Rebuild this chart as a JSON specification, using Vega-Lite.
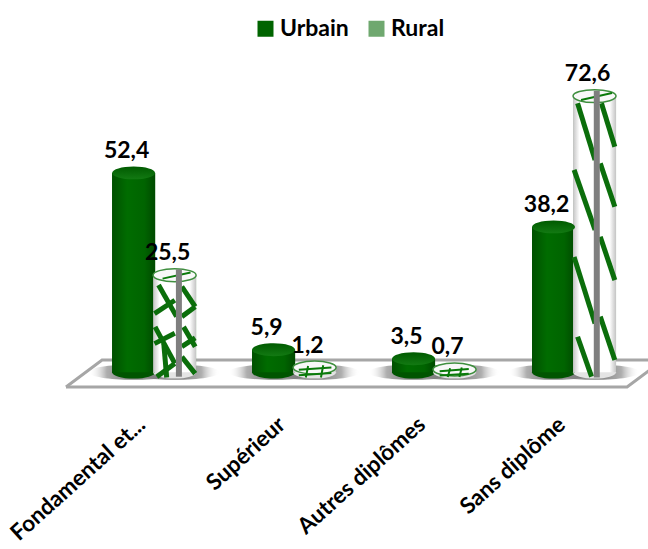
{"$schema":"https://vega.github.io/schema/vega-lite/v6.json","width":582,"height":330,"autosize":"none","padding":{"left":66,"top":60,"right":0,"bottom":159},"background":"white","config":{"view":{"stroke":null},"font":"Lato"},"datasets":{"main":[{"cat":"Fondamental et...","serie":"Urbain","val":52.4,"txt":"52,4"},{"cat":"Fondamental et...","serie":"Rural","val":25.5,"txt":"25,5"},{"cat":"Supérieur","serie":"Urbain","val":5.9,"txt":"5,9"},{"cat":"Supérieur","serie":"Rural","val":1.2,"txt":"1,2"},{"cat":"Autres diplômes","serie":"Urbain","val":3.5,"txt":"3,5"},{"cat":"Autres diplômes","serie":"Rural","val":0.7,"txt":"0,7"},{"cat":"Sans diplôme","serie":"Urbain","val":38.2,"txt":"38,2"},{"cat":"Sans diplôme","serie":"Rural","val":72.6,"txt":"72,6"}]},"layer":[{"data":{"values":[{"p":"f","x":0,"y":-3.9,"o":1},{"p":"f","x":96.4,"y":-3.9,"o":2},{"p":"f","x":100.5,"y":0.8,"o":3},{"p":"b","x":0,"y":-3.9,"o":1},{"p":"b","x":6.2,"y":3.2,"o":2},{"p":"b","x":100,"y":3.2,"o":3}]},"mark":{"type":"line","color":"#a6a6a6","strokeWidth":3,"clip":false},"encoding":{"x":{"field":"x","type":"quantitative","scale":{"domain":[0,100],"nice":false,"zero":false},"axis":null},"y":{"field":"y","type":"quantitative","scale":{"domain":[-4.7,82.1],"nice":false,"zero":false},"axis":null},"detail":{"field":"p"},"order":{"field":"o"}}},{"data":{"name":"main"},"encoding":{"x":{"field":"cat","type":"nominal","sort":null,"scale":{"type":"band","domain":["Fondamental et...","Supérieur","Autres diplômes","Sans diplôme"],"paddingInner":0,"paddingOuter":0.079,"align":0.82},"axis":{"title":null,"domain":false,"ticks":false,"labelAngle":-42,"labelAlign":"right","labelBaseline":"middle","labelFont":"Lato","labelFontWeight":"bold","labelFontSize":22.5,"labelColor":"#000000","labelPadding":31,"labelOffset":-12,"labelOverlap":false,"labelLimit":0}},"xOffset":{"field":"serie","type":"nominal","sort":["Urbain","Rural"],"scale":{"type":"band","domain":["Urbain","Rural"],"paddingInner":0,"paddingOuter":0.707}},"y":{"field":"val","type":"quantitative","scale":{"domain":[-4.7,82.1],"nice":false,"zero":false},"axis":null}},"layer":[{"mark":{"type":"point","shape":"M-1,0A1,0.17 0 1,0 1,0A1,0.17 0 1,0 -1,0Z","size":8100,"filled":true,"opacity":1,"fill":{"gradient":"radial","stops":[{"offset":0,"color":"rgba(90,90,90,0.85)"},{"offset":0.6,"color":"rgba(120,120,120,0.6)"},{"offset":1,"color":"rgba(255,255,255,0)"}]}},"encoding":{"y":{"datum":0,"type":"quantitative"}}},{"mark":{"type":"bar","width":43},"encoding":{"y2":{"datum":0},"color":{"field":"serie","type":"nominal","scale":{"domain":["Urbain","Rural"],"range":["#006400","#6fa86f"]},"legend":{"title":null,"orient":"none","legendX":188,"legendY":-43,"direction":"horizontal","columns":2,"symbolType":"square","symbolSize":256,"symbolStrokeWidth":0,"labelFont":"Lato","labelFontWeight":"bold","labelFontSize":23,"labelColor":"#000000","columnPadding":16,"labelOffset":3}}}},{"transform":[{"filter":"datum.serie=='Urbain'"}],"mark":{"type":"point","shape":"M-1,0A1,0.3 0 1,0 1,0A1,0.3 0 1,0 -1,0Z","size":1849,"filled":true,"opacity":1,"fill":"#005500"},"encoding":{"y":{"datum":0,"type":"quantitative"}}},{"transform":[{"filter":"datum.serie=='Rural'"}],"mark":{"type":"point","shape":"M-1,0A1,0.3 0 1,0 1,0A1,0.3 0 1,0 -1,0Z","size":1849,"filled":true,"opacity":1,"fill":"#e4e4e4"},"encoding":{"y":{"datum":0,"type":"quantitative"}}},{"transform":[{"filter":"datum.serie=='Urbain'"}],"mark":{"type":"bar","width":43,"fill":{"gradient":"linear","x1":0,"x2":1,"y1":0,"y2":0,"stops":[{"offset":0,"color":"#005000"},{"offset":0.35,"color":"#006c00"},{"offset":0.75,"color":"#006400"},{"offset":1,"color":"#004a00"}]}},"encoding":{"y2":{"datum":0}}},{"transform":[{"filter":"datum.serie=='Rural'"}],"mark":{"type":"bar","width":43,"fill":{"gradient":"linear","x1":0,"x2":1,"y1":0,"y2":0,"stops":[{"offset":0,"color":"#c4c4c4"},{"offset":0.15,"color":"#ffffff"},{"offset":0.85,"color":"#ffffff"},{"offset":1,"color":"#c4c4c4"}]}},"encoding":{"y2":{"datum":0}}},{"transform":[{"filter":"datum.serie=='Urbain'"}],"mark":{"type":"point","shape":"M-1,0A1,0.3 0 1,0 1,0A1,0.3 0 1,0 -1,0Z","size":1849,"filled":true,"opacity":1,"fill":{"gradient":"linear","x1":0,"x2":0,"y1":0,"y2":1,"stops":[{"offset":0,"color":"#005a00"},{"offset":1,"color":"#137a13"}]}}},{"transform":[{"filter":"datum.serie=='Rural'"}],"mark":{"type":"point","shape":"M-1,0A1,0.3 0 1,0 1,0A1,0.3 0 1,0 -1,0Z","size":1849,"filled":true,"opacity":1,"fill":"#f8f8f8","stroke":"#3f8f3f","strokeWidth":1.5}}]},{"data":{"values":[{"id":"a1","x":15.9,"y":22.9},{"id":"a1","x":19.0,"y":14.6},{"id":"a2","x":15.3,"y":11.9},{"id":"a2","x":18.7,"y":2.3},{"id":"a3","x":19.9,"y":22.5},{"id":"a3","x":22.2,"y":17.2},{"id":"a4","x":20.2,"y":11.9},{"id":"a4","x":22.2,"y":6.7},{"id":"a5","x":19.9,"y":4.0},{"id":"a5","x":22.2,"y":-0.4},{"id":"a6","x":15.2,"y":15.4},{"id":"a6","x":18.7,"y":18.9},{"id":"a7","x":15.2,"y":7.5},{"id":"a7","x":18.7,"y":10.2},{"id":"a8","x":15.6,"y":-1.2},{"id":"a8","x":18.7,"y":2.3},{"id":"a9","x":19.9,"y":14.6},{"id":"a9","x":22.2,"y":17.2},{"id":"a10","x":19.9,"y":6.7},{"id":"a10","x":22.2,"y":9.0},{"id":"a11","x":16.8,"y":7.5},{"id":"a11","x":17.3,"y":-1.4},{"id":"b1","x":87.9,"y":70.7},{"id":"b1","x":90.9,"y":55.8},{"id":"b2","x":87.3,"y":53.2},{"id":"b2","x":90.9,"y":37.4},{"id":"b3","x":87.3,"y":30.3},{"id":"b3","x":90.9,"y":12.8},{"id":"b4","x":87.9,"y":9.3},{"id":"b4","x":90.3,"y":-1.2},{"id":"b5","x":92.0,"y":70.7},{"id":"b5","x":94.3,"y":59.3},{"id":"b6","x":91.8,"y":54.9},{"id":"b6","x":94.3,"y":43.5},{"id":"b7","x":91.8,"y":35.6},{"id":"b7","x":94.3,"y":24.2},{"id":"b8","x":91.8,"y":14.6},{"id":"b8","x":94.3,"y":3.2}]},"mark":{"type":"line","color":"#0b6e0b","strokeWidth":5,"strokeCap":"butt"},"encoding":{"x":{"field":"x","type":"quantitative","scale":{"domain":[0,100],"nice":false,"zero":false},"axis":null},"y":{"field":"y","type":"quantitative","scale":{"domain":[-4.7,82.1],"nice":false,"zero":false},"axis":null},"detail":{"field":"id"}}},{"data":{"values":[{"id":"c1","x":40.0,"y":0.6},{"id":"c1","x":45.6,"y":1.2},{"id":"c2","x":40.0,"y":-0.8},{"id":"c2","x":45.6,"y":-0.2},{"id":"c3","x":41.2,"y":-1.4},{"id":"c3","x":41.6,"y":1.6},{"id":"c4","x":43.8,"y":-1.4},{"id":"c4","x":44.2,"y":1.8},{"id":"d1","x":64.2,"y":0.2},{"id":"d1","x":69.2,"y":0.8},{"id":"d2","x":64.2,"y":-0.9},{"id":"d2","x":69.2,"y":-0.4},{"id":"d3","x":65.6,"y":-1.3},{"id":"d3","x":66.0,"y":1.0},{"id":"d4","x":67.6,"y":-1.3},{"id":"d4","x":68.0,"y":1.2},{"id":"e1","x":16.6,"y":24.6},{"id":"e1","x":21.4,"y":26.2},{"id":"e2","x":88.5,"y":71.6},{"id":"e2","x":93.8,"y":73.4}]},"mark":{"type":"line","color":"#0a7a0a","strokeWidth":2,"strokeCap":"butt"},"encoding":{"x":{"field":"x","type":"quantitative","scale":{"domain":[0,100],"nice":false,"zero":false},"axis":null},"y":{"field":"y","type":"quantitative","scale":{"domain":[-4.7,82.1],"nice":false,"zero":false},"axis":null},"detail":{"field":"id"}}},{"data":{"values":[{"id":"g1","x":19.4,"y":27},{"id":"g1","x":19.4,"y":-1.2},{"id":"g4","x":91.2,"y":74},{"id":"g4","x":91.2,"y":-1.4}]},"mark":{"type":"line","color":"#7f7f7f","strokeWidth":6,"strokeCap":"butt"},"encoding":{"x":{"field":"x","type":"quantitative","scale":{"domain":[0,100],"nice":false,"zero":false},"axis":null},"y":{"field":"y","type":"quantitative","scale":{"domain":[-4.7,82.1],"nice":false,"zero":false},"axis":null},"detail":{"field":"id"}}},{"data":{"name":"main"},"mark":{"type":"text","font":"Lato","fontWeight":"bold","fontSize":23,"color":"#000000","dx":-7,"dy":-15,"baseline":"alphabetic","align":"center"},"encoding":{"x":{"field":"cat","type":"nominal","sort":null,"scale":{"type":"band","domain":["Fondamental et...","Supérieur","Autres diplômes","Sans diplôme"],"paddingInner":0,"paddingOuter":0.079,"align":0.82},"axis":null},"xOffset":{"field":"serie","type":"nominal","sort":["Urbain","Rural"],"scale":{"type":"band","domain":["Urbain","Rural"],"paddingInner":0,"paddingOuter":0.707}},"y":{"field":"val","type":"quantitative","scale":{"domain":[-4.7,82.1],"nice":false,"zero":false},"axis":null},"text":{"field":"txt"}}}],"resolve":{"scale":{"x":"independent","xOffset":"independent"},"axis":{"x":"independent"}}}
